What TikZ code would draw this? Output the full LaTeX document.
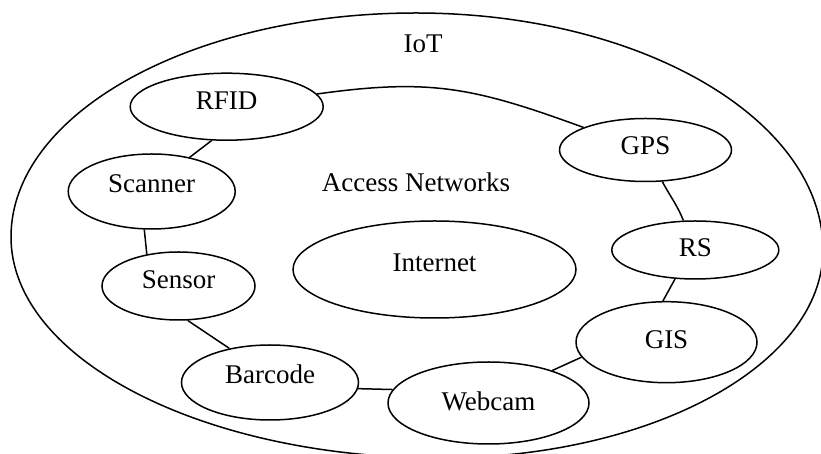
\documentclass[tikz,border=0pt]{standalone}
\usepackage{fontspec}
\setmainfont{Liberation Serif}
\usetikzlibrary{shapes.geometric}
\begin{document}
\begin{tikzpicture}[x=1pt,y=1pt,line width=1.5pt,
  every node/.style={font=\fontsize{27}{32}\selectfont},
  ell/.style={draw,ellipse,inner sep=0pt,text height=18pt},
  plain/.style={inner sep=0pt,anchor=base}]
\useasboundingbox (0,0) rectangle (821,454);
% outer IoT boundary
\draw (11,217) .. controls (11,340.7) and (192.3,441) .. (416,441)
      .. controls (640.8,441) and (823,334.9) .. (823,204)
      .. controls (823,89.1) and (651.5,-4) .. (440,-4)
      .. controls (203,-4) and (11,94.9) .. (11,217) -- cycle;
\node[plain] (iot) at (423,401) {IoT};
\node[plain] (access) at (416,262) {Access Networks};
% nodes
\node[ell,minimum width=193pt,minimum height=67pt,text depth=11.4pt] (rfid) at (226.7,347.3) {RFID};
\node[ell,minimum width=167pt,minimum height=75pt,text depth=15pt] (scanner) at (151.7,262.5) {Scanner};
\node[ell,minimum width=153pt,minimum height=68pt,text depth=12pt] (sensor) at (178.5,168) {Sensor};
\node[ell,minimum width=177pt,minimum height=75pt,text depth=15pt] (barcode) at (270,71.5) {Barcode};
\node[ell,minimum width=201pt,minimum height=82pt,text depth=2.6pt] (webcam) at (488.5,51) {Webcam};
\node[ell,minimum width=181pt,minimum height=81pt,text depth=6pt] (gis) at (666.5,111.8) {GIS};
\node[ell,minimum width=167pt,minimum height=58pt,text depth=4.6pt] (rs) at (695.3,204) {RS};
\node[ell,minimum width=172pt,minimum height=63pt,text depth=8pt] (gps) at (645.5,304) {GPS};
\node[ell,minimum width=283pt,minimum height=97pt,text depth=13pt] (internet) at (434.5,184.5) {Internet};
% connectors
\draw (rfid) to[out=8,in=160,looseness=1.1] (gps);
\draw (gps) to[out=298,in=112] (rs);
\draw (rs.235) -- (gis.95);
\draw (gis.190.6) -- (webcam.27.5);
\draw (webcam.172) -- (barcode.356.4);
\draw (barcode.140.6) -- (sensor.285.6);
\draw (sensor.135) -- (scanner.259);
\draw (scanner.42) -- (rfid.246);
\end{tikzpicture}
\end{document}
